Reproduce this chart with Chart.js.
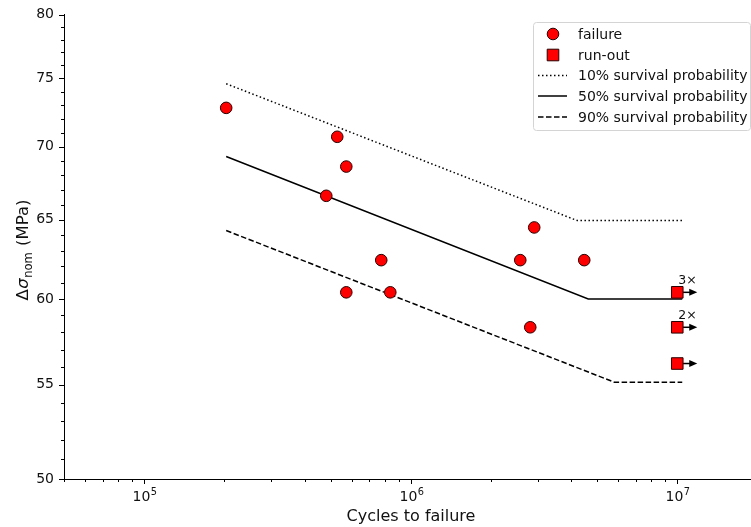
<!DOCTYPE html>
<html>
<head>
<meta charset="utf-8">
<script src="https://cdn.jsdelivr.net/npm/chart.js@4/dist/chart.umd.min.js"></script>
<style>
  html, body { margin: 0; padding: 0; background: #fff; overflow: hidden; }
</style>
</head>
<body>
<canvas id="myChart" width="751" height="527"></canvas>
<script>
// test results (cycles, nominal stress range in MPa)
const failureCycles = [203000, 530000, 573000, 482000, 775000, 573000, 838000, 2576000, 2906000, 4477000, 2808000];
const failureStress = [72.8, 70.7, 68.6, 66.6, 62.4, 60.4, 60.4, 62.4, 64.5, 62.4, 58.3];
const runoutCycles = [1e7, 1e7, 1e7];
const runoutStress = [60.4, 58.3, 56.2];
const runoutCount = ['3×', '2×', ''];

// S-N curves for the survival probabilities
const p10Cycles = [203000, 4215000, 10440000];
const p10Stress = [74.6, 64.95, 64.95];
const p50Cycles = [203000, 4634000, 10440000];
const p50Stress = [69.3, 60.0, 60.0];
const p90Cycles = [203000, 5800000, 10440000];
const p90Stress = [64.3, 55.15, 55.15];

// axes
const xMajorTicks = [1e5, 1e6, 1e7];
const xTickBase = ['10', '10', '10'];
const xTickExp = ['5', '6', '7'];
const yMajorTicks = [50, 55, 60, 65, 70, 75, 80];
const xMin = 5e4, xMax = 1.891e7, yMin = 50, yMax = 80;
const xTitle = 'Cycles to failure';

/* minor + major tick positions */
var xAllTicks = [];
for (var k = 4; k <= 7; k++) {
  for (var m = 1; m <= 9; m++) {
    var v = m * Math.pow(10, k);
    if (v >= xMin && v <= xMax) xAllTicks.push(v);
  }
}
var yAllTicks = [];
for (var s = yMin; s <= yMax; s++) yAllTicks.push(s);

function toPts(xs, ys) {
  return xs.map(function (x, i) { return { x: x, y: ys[i] }; });
}
function majorIndex(v) {
  for (var i = 0; i < xMajorTicks.length; i++) {
    if (Math.abs(v / xMajorTicks[i] - 1) < 1e-6) return i;
  }
  return -1;
}

const FONT = "'DejaVu Sans', sans-serif";

/* tick marks, x labels, axis titles, run-out arrows, legend */
const extras = {
  id: 'extras',
  beforeDatasetsDraw(chart) {
    const ctx = chart.ctx, xs = chart.scales.x, ys = chart.scales.y;
    ctx.save();
    ctx.strokeStyle = '#000';
    ctx.fillStyle = '#000';
    ctx.lineWidth = 1.5;
    runoutCycles.forEach(function (c, i) {
      var px = xs.getPixelForValue(c), py = ys.getPixelForValue(runoutStress[i]);
      ctx.beginPath();
      ctx.moveTo(px, py);
      ctx.lineTo(px + 13, py);
      ctx.stroke();
      ctx.beginPath();
      ctx.moveTo(px + 20, py);
      ctx.lineTo(px + 12, py - 3.5);
      ctx.lineTo(px + 12, py + 3.5);
      ctx.closePath();
      ctx.fill();
    });
    ctx.restore();
  },
  afterDraw(chart) {
    const ctx = chart.ctx, xs = chart.scales.x, ys = chart.scales.y;
    const area = chart.chartArea;
    ctx.save();
    ctx.strokeStyle = '#000';
    ctx.lineWidth = 1;
    // x ticks and labels
    xAllTicks.forEach(function (v) {
      var px = Math.round(xs.getPixelForValue(v)) + 0.5;
      var mi = majorIndex(v);
      var len = mi >= 0 ? 5 : 3;
      ctx.beginPath();
      ctx.moveTo(px, area.bottom);
      ctx.lineTo(px, area.bottom + len);
      ctx.stroke();
      if (mi >= 0) {
        ctx.fillStyle = '#111';
        ctx.textBaseline = 'alphabetic';
        ctx.textAlign = 'left';
        ctx.font = '14px ' + FONT;
        var wb = ctx.measureText(xTickBase[mi]).width;
        ctx.font = '9.8px ' + FONT;
        var we = ctx.measureText(xTickExp[mi]).width;
        var x0 = px - (wb + we) / 2;
        ctx.font = '14px ' + FONT;
        ctx.fillText(xTickBase[mi], x0, area.bottom + 22);
        ctx.font = '9.8px ' + FONT;
        ctx.fillText(xTickExp[mi], x0 + wb + 0.5, area.bottom + 16);
      }
    });
    // y ticks
    yAllTicks.forEach(function (v) {
      var py = Math.round(ys.getPixelForValue(v)) + 0.5;
      var len = yMajorTicks.indexOf(v) >= 0 ? 5 : 3;
      ctx.beginPath();
      ctx.moveTo(area.left, py);
      ctx.lineTo(area.left - len, py);
      ctx.stroke();
    });

    // x axis title (centred on the full axes, which run a little past the canvas)
    ctx.fillStyle = '#111';
    ctx.font = '16px ' + FONT;
    ctx.textAlign = 'center';
    ctx.textBaseline = 'alphabetic';
    ctx.fillText(xTitle, 411, 521);

    // run-out counts
    ctx.font = '12.5px ' + FONT;
    ctx.textAlign = 'left';
    runoutCycles.forEach(function (c, i) {
      if (!runoutCount[i]) return;
      var px = xs.getPixelForValue(c), py = ys.getPixelForValue(runoutStress[i]);
      ctx.fillText(runoutCount[i], px + 1, py - 8);
    });

    // y axis title: Δσ_nom (MPa)
    var parts = [
      { t: 'Δ', f: '16.5px ' + FONT, dy: 0, gap: 0.5 },
      { t: 'σ', f: 'italic 16.5px ' + FONT, dy: 0, gap: 0.5 },
      { t: 'nom', f: '11.5px ' + FONT, dy: 3.5, gap: 1 },
      { t: ' (MPa)', f: '16.5px ' + FONT, dy: 0, gap: 0 }
    ];
    var total = 0;
    parts.forEach(function (p) { ctx.font = p.f; p.w = ctx.measureText(p.t).width + p.gap; total += p.w; });
    ctx.save();
    ctx.translate(28, 250);
    ctx.rotate(-Math.PI / 2);
    var cx = -total / 2;
    parts.forEach(function (p) {
      ctx.font = p.f;
      ctx.fillText(p.t, cx, p.dy);
      cx += p.w;
    });
    ctx.restore();

    // legend
    var lx = 533.5, ly = 22.5, lw = 217, lh = 108, r = 3;
    ctx.beginPath();
    ctx.moveTo(lx + r, ly);
    ctx.lineTo(lx + lw - r, ly);
    ctx.arcTo(lx + lw, ly, lx + lw, ly + r, r);
    ctx.lineTo(lx + lw, ly + lh - r);
    ctx.arcTo(lx + lw, ly + lh, lx + lw - r, ly + lh, r);
    ctx.lineTo(lx + r, ly + lh);
    ctx.arcTo(lx, ly + lh, lx, ly + lh - r, r);
    ctx.lineTo(lx, ly + r);
    ctx.arcTo(lx, ly, lx + r, ly, r);
    ctx.closePath();
    ctx.fillStyle = 'rgba(255,255,255,0.85)';
    ctx.fill();
    ctx.strokeStyle = '#d4d4d4';
    ctx.stroke();

    var rows = [34, 55, 75.5, 96, 117];
    chart.data.datasets.forEach(function (ds, i) {
      var ry = rows[i];
      if (ds.showLine) {
        ctx.save();
        ctx.strokeStyle = ds.borderColor;
        ctx.lineWidth = ds.borderWidth;
        ctx.setLineDash(ds.borderDash || []);
        ctx.beginPath();
        ctx.moveTo(538, ry);
        ctx.lineTo(567, ry);
        ctx.stroke();
        ctx.restore();
      } else {
        ctx.fillStyle = ds.pointBackgroundColor;
        ctx.strokeStyle = ds.pointBorderColor;
        ctx.lineWidth = ds.pointBorderWidth;
        ctx.beginPath();
        if (ds.pointStyle === 'circle') {
          ctx.arc(553, ry, ds.pointRadius, 0, Math.PI * 2);
        } else {
          var h = ds.pointRadius * Math.SQRT1_2;
          ctx.rect(553 - h, ry - h, 2 * h, 2 * h);
        }
        ctx.fill();
        ctx.stroke();
      }
      ctx.fillStyle = '#111';
      ctx.font = '14px ' + FONT;
      ctx.textAlign = 'left';
      ctx.textBaseline = 'middle';
      ctx.fillText(ds.label, 578, ry + 1);
    });
    ctx.restore();
  }
};

const data = {
  datasets: [
    {
      label: 'failure',
      data: toPts(failureCycles, failureStress),
      pointStyle: 'circle',
      pointRadius: 5.8,
      pointBackgroundColor: '#f00',
      pointBorderColor: '#2a0000',
      pointBorderWidth: 1,
      showLine: false
    },
    {
      label: 'run-out',
      data: toPts(runoutCycles, runoutStress),
      pointStyle: 'rect',
      pointRadius: 8.2,
      pointBackgroundColor: '#f00',
      pointBorderColor: '#2a0000',
      pointBorderWidth: 1,
      showLine: false
    },
    {
      label: '10% survival probability',
      data: toPts(p10Cycles, p10Stress),
      showLine: true,
      borderColor: '#000',
      borderWidth: 1.5,
      borderDash: [1.5, 2.5],
      pointRadius: 0
    },
    {
      label: '50% survival probability',
      data: toPts(p50Cycles, p50Stress),
      showLine: true,
      borderColor: '#000',
      borderWidth: 1.5,
      borderDash: [],
      pointRadius: 0
    },
    {
      label: '90% survival probability',
      data: toPts(p90Cycles, p90Stress),
      showLine: true,
      borderColor: '#000',
      borderWidth: 1.5,
      borderDash: [5.5, 2.5],
      pointRadius: 0
    }
  ]
};

const config = {
  type: 'scatter',
  data: data,
  options: {
    responsive: false,
    animation: false,
    devicePixelRatio: 1,
    layout: {
      autoPadding: false,
      padding: { top: 14.7, left: 0, right: 0, bottom: 0 }
    },
    scales: {
      x: {
        type: 'logarithmic',
        min: xMin,
        max: xMax,
        afterBuildTicks: function (s) { s.ticks = xAllTicks.map(function (v) { return { value: v }; }); },
        afterFit: function (s) { s.height = 48; s.paddingLeft = 0; s.paddingRight = 0; },
        grid: { display: false, drawTicks: false },
        border: { display: true, color: '#000', width: 1 },
        ticks: { display: false },
        title: { display: false }
      },
      y: {
        type: 'logarithmic',
        min: yMin,
        max: yMax,
        afterBuildTicks: function (s) { s.ticks = yAllTicks.map(function (v) { return { value: v }; }); },
        afterFit: function (s) { s.width = 64; s.paddingTop = 0; s.paddingBottom = 0; },
        grid: { display: false, drawTicks: false },
        border: { display: true, color: '#000', width: 1 },
        ticks: {
          autoSkip: false,
          padding: 10,
          color: '#111',
          font: { family: FONT, size: 14 },
          callback: function (v) { return yMajorTicks.indexOf(v) >= 0 ? String(v) : ''; }
        }
      }
    },
    plugins: {
      legend: { display: false },
      tooltip: { enabled: false }
    }
  },
  plugins: [extras]
};

var myChart = new Chart(document.getElementById('myChart'), config);
</script>
</body>
</html>
